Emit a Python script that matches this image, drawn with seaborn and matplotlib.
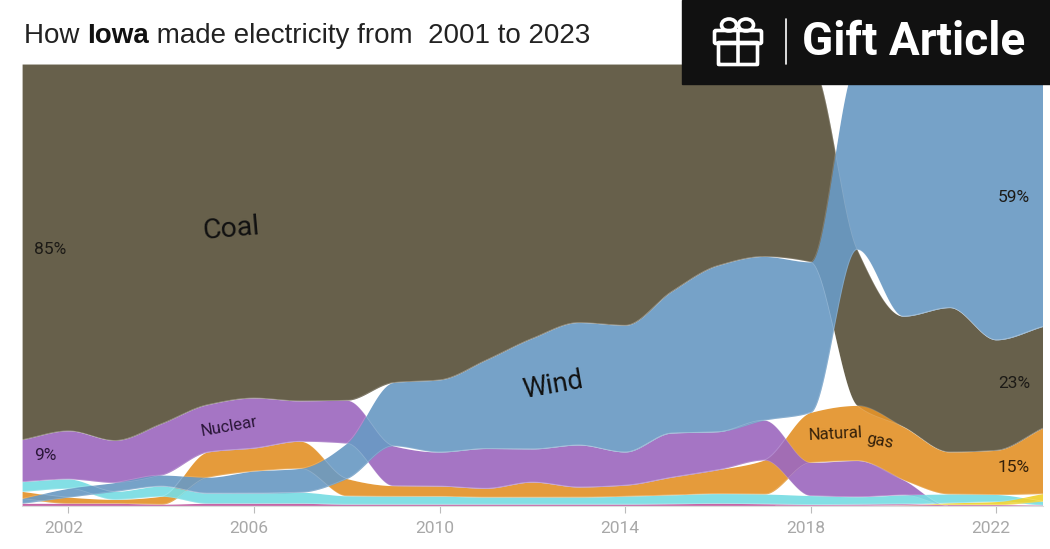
# how iowa made electricity, ranked stream chart
import numpy as np
import pandas as pd
import matplotlib
matplotlib.use('Agg')
import matplotlib.pyplot as plt
from matplotlib.patches import Rectangle, FancyBboxPatch, Ellipse
from matplotlib.transforms import ScaledTranslation
import seaborn as sns

# share of generation in percent
years = list(range(2001, 2024))
coal = [85, 83, 85, 81.4, 77, 75.5, 76, 76, 72, 71.4, 67, 62, 58.5, 59, 51.5, 45.6, 43.5, 44.7, 35.4, 25, 32.6, 25, 23]
wind = [1.1, 2.0, 2.0, 2.5, 3.6, 5, 5.4, 8, 14.3, 16.3, 20, 25, 27.7, 28.6, 32, 37.6, 37, 34, 42, 57, 55, 62.4, 59.4]
nuclear = [9.5, 10.9, 9.5, 11.6, 10.7, 11.3, 9.1, 9.7, 9, 7.7, 9, 7.5, 9.5, 7.5, 10, 8.6, 9, 7.5, 8.2, 3.4, 0, 0, 0]
gas = [1.6, 1.4, 0.9, 1.8, 5.7, 5.2, 6.1, 3.9, 2.4, 2.3, 2, 3.4, 2.3, 2.5, 4, 5.4, 7.7, 11.3, 12.5, 12, 9.5, 10, 14.8]
hydro = [2.2, 2.1, 1.8, 2.3, 2.3, 2.3, 2.5, 1.9, 1.8, 1.8, 1.6, 1.6, 1.6, 1.8, 2, 2.2, 2.2, 2, 1.7, 2, 2, 1.6, 0.9]
solar = [0, 0, 0, 0, 0, 0, 0, 0, 0, 0, 0, 0, 0, 0, 0, 0, 0, 0.05, 0.1, 0.2, 0.4, 0.7, 1.7]
other = [0.6, 0.6, 0.6, 0.4, 0.6, 0.6, 0.6, 0.4, 0.4, 0.4, 0.4, 0.4, 0.4, 0.4, 0.5, 0.6, 0.5, 0.3, 0.3, 0.3, 0.3, 0.3, 0.2]
tick_years = [2002, 2006, 2010, 2014, 2018, 2022]

shares = pd.DataFrame({'Coal': coal, 'Natural gas': gas, 'Nuclear': nuclear, 'Hydro': hydro,
                       'Wind': wind, 'Solar': solar, 'Other': other}, index=years)
shares = shares.div(shares.sum(axis=1), axis=0) * 100

palette = {'Coal': '#5a523b', 'Natural gas': '#e3932a', 'Nuclear': '#9d69bf', 'Hydro': '#78dde3',
           'Wind': '#6a9ac4', 'Solar': '#f0d22e', 'Other': '#c0589f'}


# d3 style monotone curve so the bands stay smooth between years
def monotone(x, y, xs):
    x = np.asarray(x, dtype=float)
    y = np.asarray(y, dtype=float)
    h = np.diff(x)
    d = np.diff(y) / h
    m = np.zeros(len(x))
    for i in range(1, len(x) - 1):
        if d[i - 1] * d[i] > 0:
            m[i] = 2 * d[i - 1] * d[i] / (d[i - 1] + d[i])
    m[0] = d[0]
    m[-1] = d[-1]
    idx = np.clip(np.searchsorted(x, xs, side='right') - 1, 0, len(h) - 1)
    t = (xs - x[idx]) / h[idx]
    return ((2 * t**3 - 3 * t**2 + 1) * y[idx] + (t**3 - 2 * t**2 + t) * h[idx] * m[idx]
            + (-2 * t**3 + 3 * t**2) * y[idx + 1] + (t**3 - t**2) * h[idx] * m[idx + 1])


# every year the biggest source goes on top of the stack
lower = pd.DataFrame(index=shares.index, columns=shares.columns, dtype=float)
for year, row in shares.iterrows():
    base = 0.0
    for name, val in row.sort_values(kind='stable').items():
        lower.loc[year, name] = base
        base += val
upper = lower + shares

sns.set_theme(style='white')
plt.rcParams['font.family'] = ['Roboto', 'DejaVu Sans']

fig = plt.figure(figsize=(10.5, 5.49), dpi=100)
ax = fig.add_axes([22.1 / 1050, 43 / 549, 1020.4 / 1050, 442 / 549])

xs = np.linspace(2001, 2023, 1400)
for name in shares.columns:
    lo = monotone(years, lower[name], xs)
    hi = monotone(years, upper[name], xs)
    visible = hi - lo > 0.005
    ax.fill_between(xs, lo, hi, where=visible, color=palette[name], alpha=0.92, lw=0)
    for edge in (lo, hi):
        sns.lineplot(x=xs[visible], y=edge[visible], ax=ax, color='white', alpha=0.18, lw=0.6,
                     estimator=None, sort=False)

ax.set_xlim(2001, 2023)
ax.set_ylim(0, 100)
ax.set_yticks([])
ax.set_xticks(tick_years)
ax.set_xticklabels([str(y) for y in tick_years], fontsize=12.5, color='#a8a8a8')
ax.tick_params(axis='x', length=5, width=0.8, color='#bbbbbb', pad=6, bottom=True)
# year labels sit a little left of their ticks
for lab in ax.get_xticklabels():
    lab.set_transform(lab.get_transform() + ScaledTranslation(-5 / 100, 0, fig.dpi_scale_trans))
for side in ('top', 'left', 'right'):
    ax.spines[side].set_visible(False)
ax.spines['bottom'].set_color('#dddddd')
ax.spines['bottom'].set_linewidth(0.8)

# overlay in picture pixels for the title, the banner and the labels
over = fig.add_axes([0, 0, 1, 1], zorder=5)
over.set_xlim(0, 1050)
over.set_ylim(549, 0)
over.axis('off')
over.patch.set_alpha(0)


def label(px, py, txt, size=12.5, rot=0, color='#1c1a16', **kw):
    over.text(px, py, txt, fontsize=size, rotation=rot, color=color, ha='center', va='center',
              rotation_mode='anchor', **kw)


label(231, 229, 'Coal', 20.5, 5, '#111111')
label(553, 385, 'Wind', 19.5, 10, '#111111')
label(229, 427, 'Nuclear', 12, 10, '#2a1638')
label(835, 434, 'Natural', 12, 3, '#33200a')
label(880, 441, 'gas', 12, -11, '#33200a')
label(50, 249, '85%')
label(45, 455, '9%', 12.5, 0, '#2a1638')
label(1014, 198, '59%')
label(1014, 383, '23%')
label(1014, 467, '15%', 12.5, 0, '#33200a')

# title, bold part in the middle
title_font = ['Liberation Sans', 'DejaVu Sans']
t1 = over.text(24, 43, 'How ', fontsize=20, color='#222222', family=title_font, va='baseline')
t2 = over.annotate('Iowa', xy=(1, 0), xycoords=t1, fontsize=20, color='#111111', family=title_font,
                   fontweight='bold', va='bottom')
over.annotate(' made electricity from  2001 to 2023', xy=(1, 0), xycoords=t2, fontsize=20, color='#222222',
              family=title_font, va='bottom')

# gift article banner
over.add_patch(Rectangle((682, 0), 368, 84, color='#111111', zorder=6))
white = dict(fill=False, edgecolor='white', lw=2.6, zorder=7)
over.add_patch(FancyBboxPatch((716, 32), 44, 10, boxstyle='round,pad=1.5', **white))
over.add_patch(FancyBboxPatch((719, 43), 38, 21, boxstyle='round,pad=0.5', **white))
over.plot([737.5, 737.5], [32, 64], color='white', lw=2.6, zorder=7)
over.add_patch(Ellipse((729, 25), 15, 12, **white))
over.add_patch(Ellipse((746, 25), 15, 12, **white))
over.plot([785.5, 785.5], [19, 64], color='white', lw=1.2, zorder=7)
over.text(802, 42, 'Gift Article', fontsize=33, color='white', fontweight='bold', va='center', zorder=7)

fig.savefig('out.png', dpi=100)
